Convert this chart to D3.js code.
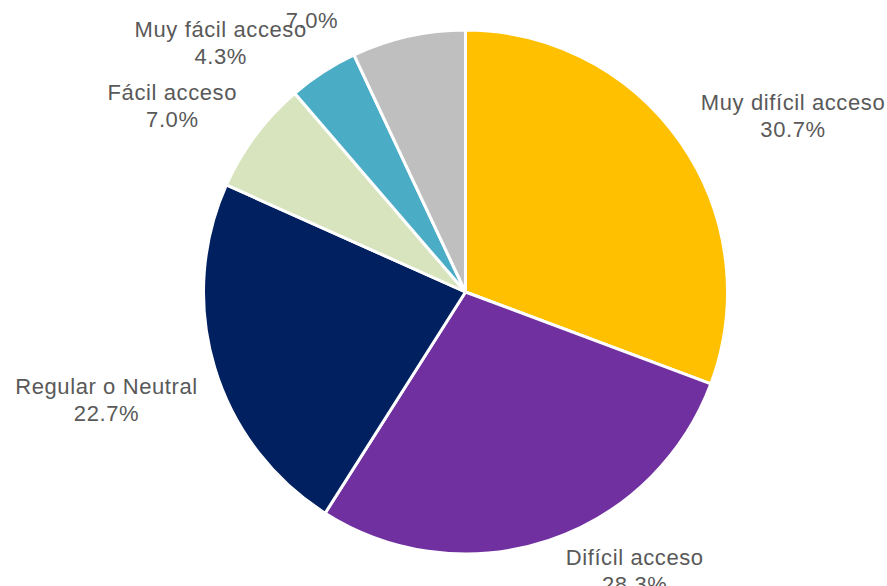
<!DOCTYPE html>
<html>
<head>
<meta charset="utf-8">
<script src="https://cdn.jsdelivr.net/npm/d3@7"></script>
<style>
  body { margin: 0; background: #fff; }
  svg { display: block; }
  .lbl { font-family: "Liberation Sans", Arial, sans-serif; font-size: 22px; letter-spacing: 0.6px; fill: #595959; }
</style>
</head>
<body>
<div id="chart"></div>
<script>
const categories = [
    "Muy difícil acceso",
    "Difícil acceso",
    "Regular o Neutral",
    "Fácil acceso",
    "Muy fácil acceso",
    ""
]
const values = [30.7, 28.3, 22.7, 7.0, 4.3, 7.0]
const colors = ["#FFC000", "#7030A0", "#002060", "#D7E4BD", "#4BACC6", "#BFBFBF"]

// nudges for label placement (excel best-fit look)
const labelNudge = [[-3, -10], [8, 5], [10, 25], [4, -12], [-1, -5], [-64, 12]]

const width = 887;
const height = 586;
const cx = 465.5, cy = 292, radius = 262;

const svg = d3.select("#chart")
    .append("svg")
    .attr("width", width)
    .attr("height", height);

const g = svg.append("g")
    .attr("transform", `translate(${cx},${cy})`);

const pie = d3.pie().sort(null).value(d => d.value);
const arc = d3.arc().innerRadius(0).outerRadius(radius);

const data = categories.map((c, i) => ({ name: c, value: values[i], color: colors[i], i }));
const arcs = pie(data);

g.selectAll(".slice")
    .data(arcs)
    .join("path")
    .attr("class", "slice")
    .attr("d", arc)
    .attr("fill", d => d.data.color)
    .attr("stroke", "#fff")
    .attr("stroke-width", 3)
    .attr("stroke-linejoin", "round");

const labelR = 290;
const lineH = 27;

arcs.forEach(d => {
    const mid = (d.startAngle + d.endAngle) / 2;
    const lines = d.data.name ? [d.data.name, d.data.value.toFixed(1) + "%"] : [d.data.value.toFixed(1) + "%"];
    const t = g.append("text")
        .attr("class", "lbl")
        .attr("text-anchor", "middle");
    lines.forEach((l, k) => {
        t.append("tspan").attr("x", 0).attr("dy", k === 0 ? 0 : lineH).text(l);
    });
    const w = d3.max(t.selectAll("tspan").nodes(), n => n.getComputedTextLength());
    const s = Math.sin(mid), c = Math.cos(mid);
    const nudge = labelNudge[d.data.i];
    const x = labelR * s + Math.sign(s) * w / 2 + nudge[0];
    const yc = -labelR * c + nudge[1];
    const blockH = (lines.length - 1) * lineH;
    // baseline of first line so the block is centred on yc
    const y0 = yc - blockH / 2 + 7;
    t.attr("transform", `translate(${x},${y0})`);
});
</script>
</body>
</html>
